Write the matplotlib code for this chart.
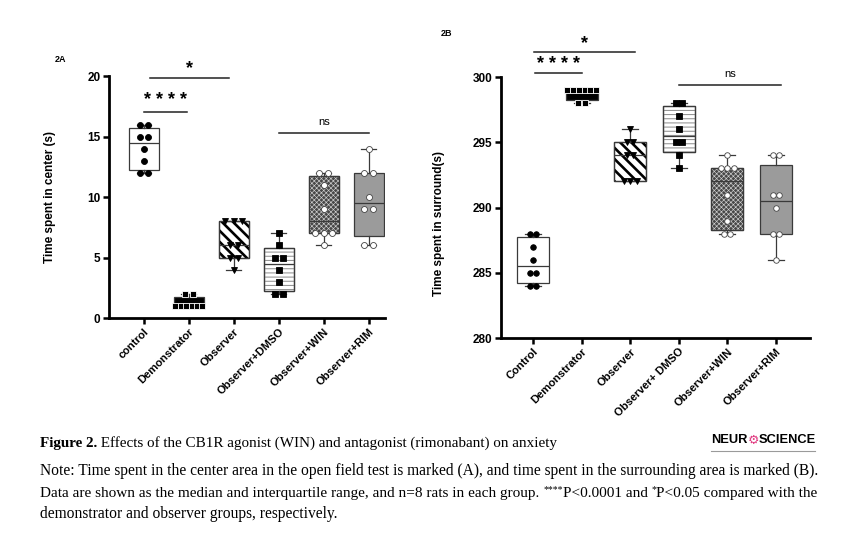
import numpy as np
import matplotlib.pyplot as plt
from matplotlib.lines import Line2D
from matplotlib.patches import PathPatch

plt.rcParams["font.family"] = ["Liberation Sans", "DejaVu Sans"]

# group names as printed under each panel
groups_a = ["control", "Demonstrator", "Observer", "Observer+DMSO", "Observer+WIN", "Observer+RIM"]
groups_b = ["Control", "Demonstrator", "Observer", "Observer+ DMSO", "Observer+WIN", "Observer+RIM"]

# 2A: time spent in center (s), n=8 per group
center_control = [12, 12, 13, 14, 15, 15, 16, 16]
center_demo = [1, 1, 1, 1, 1, 1, 2, 2]
center_observer = [4, 5, 5, 6, 6, 8, 8, 8]
center_dmso = [2, 2, 3, 4, 5, 5, 6, 7]
center_win = [6, 7, 7, 7, 9, 11, 12, 12]
center_rim = [6, 6, 9, 9, 10, 12, 12, 14]

# 2B: time spent in surround (s)
surround_control = [284, 284, 285, 285, 286, 287, 288, 288]
surround_demo = [298, 298, 299, 299, 299, 299, 299, 299]
surround_observer = [292, 292, 292, 294, 294, 295, 295, 296]
surround_dmso = [293, 294, 295, 295, 296, 297, 298, 298]
surround_win = [288, 288, 289, 291, 293, 293, 293, 294]
surround_rim = [286, 288, 288, 290, 291, 291, 294, 294]

center_yticks = [0, 5, 10, 15, 20]
surround_yticks = [280, 285, 290, 295, 300]

# look of each group: fill, hatch, hatch colour, marker, marker face, marker edge
styles = [
    dict(face="white", hatch=None, hcol=None, marker="o", mfc="black", mec="black"),
    dict(face="black", hatch=None, hcol=None, marker="s", mfc="black", mec="white"),
    dict(face="white", hatch="\\\\\\", hcol="black", marker="v", mfc="black", mec="black", hlw=1.9),
    dict(face="white", hatch="----", hcol="#8a8a8a", marker="s", mfc="black", mec="black", hlw=0.7),
    dict(face="#474747", hatch="xxxxxxx", hcol="#d0d0d0", marker="o", mfc="white", mec="#444444", hlw=0.45),
    dict(face="#9b9b9b", hatch=None, hcol=None, marker="o", mfc="white", mec="#444444"),
]


def box_stats(vals):
    q1, med, q3 = np.percentile(vals, [25, 50, 75], method="weibull")
    return dict(med=med, q1=q1, q3=q3, whislo=min(vals), whishi=max(vals), fliers=[])


def spread(vals, step):
    counts = {}
    for v in vals:
        counts[v] = counts.get(v, 0) + 1
    seen = {}
    xs = []
    for v in vals:
        n = counts[v]
        k = seen.get(v, 0)
        seen[v] = k + 1
        s = step if n < 3 else min(step, 0.6 / (n - 1))
        xs.append((k - (n - 1) / 2) * s)
    return np.array(xs)


def draw_panel(ax, data, labels, yticks, step, msize):
    pos = np.arange(len(data))
    edge = "#3a3a3a"
    res = ax.bxp(
        [box_stats(d) for d in data], positions=pos, widths=0.66, capwidths=0.33,
        patch_artist=True, showfliers=False,
        boxprops=dict(edgecolor=edge, linewidth=0.9),
        medianprops=dict(color=edge, linewidth=0.9),
        whiskerprops=dict(color=edge, linewidth=0.9),
        capprops=dict(color=edge, linewidth=0.9),
    )
    for box, st in zip(res["boxes"], styles):
        box.set_facecolor(st["face"])
        box.set_zorder(2)
        if st["hatch"]:
            plt.rcParams["hatch.linewidth"] = st["hlw"]
            over = PathPatch(box.get_path(), facecolor="none", edgecolor=st["hcol"],
                             linewidth=0, hatch=st["hatch"], zorder=2.2)
            if hasattr(over, "set_hatch_linewidth"):
                over.set_hatch_linewidth(st["hlw"])
            ax.add_patch(over)
            outline = PathPatch(box.get_path(), facecolor="none", edgecolor=edge,
                                linewidth=0.9, zorder=2.3)
            ax.add_patch(outline)
    for ln in res["medians"]:
        ln.set_zorder(2.5)
    for i, (d, st) in enumerate(zip(data, styles)):
        ax.plot(i + spread(d, step), d, linestyle="none", marker=st["marker"],
                markerfacecolor=st["mfc"], markeredgecolor=st["mec"],
                markeredgewidth=0.6, markersize=msize, zorder=4, clip_on=False)

    ax.set_xticks(pos)
    ax.set_xticklabels(labels, rotation=45, ha="right", rotation_mode="anchor",
                       fontsize=8, fontweight="bold")
    ax.set_yticks(yticks)
    ax.set_yticklabels([str(t) for t in yticks], fontsize=8.5, fontweight="bold")
    ax.set_ylim(yticks[0], yticks[-1])
    for side in ("top", "right"):
        ax.spines[side].set_visible(False)
    for side in ("left", "bottom"):
        ax.spines[side].set_linewidth(2.0)
    ax.tick_params(axis="both", direction="out", length=4, width=1.8, pad=2)


def bracket(ax, x0, x1, y, label, ty, size, weight="bold"):
    ax.plot([x0, x1], [y, y], color="#222222", linewidth=1.1, clip_on=False)
    ax.text((x0 + x1) / 2, ty, label, ha="center", va="center", fontsize=size,
            fontweight=weight, clip_on=False)


fig = plt.figure(figsize=(8.44, 5.35), dpi=100)
ax_a = fig.add_axes([0.129, 0.4056, 0.327, 0.452])
ax_b = fig.add_axes([0.5936, 0.368, 0.366, 0.488])

data_a = [center_control, center_demo, center_observer, center_dmso, center_win, center_rim]
data_b = [surround_control, surround_demo, surround_observer, surround_dmso, surround_win, surround_rim]

draw_panel(ax_a, data_a, groups_a, center_yticks, 0.19, 4.3)
ax_a.set_xlim(-0.78, 5.36)
ax_a.set_ylabel("Time spent in center (s)", fontsize=8.5, fontweight="bold")
ax_a.yaxis.set_label_coords(-0.192, 0.5)
bracket(ax_a, 0.0, 0.95, 17.0, "* * * *", 18.0, 13)
bracket(ax_a, 0.13, 1.9, 19.85, "*", 20.6, 13)
bracket(ax_a, 3.0, 5.0, 15.3, "ns", 16.2, 8, "normal")

draw_panel(ax_b, data_b, groups_b, surround_yticks, 0.13, 4.0)
ax_b.set_xlim(-0.66, 5.7)
ax_b.set_ylabel("Time spent in surround(s)", fontsize=8.5, fontweight="bold")
ax_b.yaxis.set_label_coords(-0.181, 0.44)
bracket(ax_b, 0.04, 1.0, 300.28, "* * * *", 300.95, 13)
bracket(ax_b, 0.02, 2.1, 301.9, "*", 302.6, 13)
bracket(ax_b, 3.0, 5.1, 299.4, "ns", 300.25, 8, "normal")

fig.text(55 / 844, 1 - 60 / 535, "2A", fontsize=6.5, fontweight="bold", va="center")
fig.text(441 / 844, 1 - 33 / 535, "2B", fontsize=6.5, fontweight="bold", va="center")

# caption
serif = ["Liberation Serif", "DejaVu Serif"]
renderer = fig.canvas.get_renderer()


def text_run(x_px, y_px, pieces):
    # pieces: (text, fontsize, weight, raise_px); placed side by side on one baseline
    x = x_px
    for s, size, weight, up in pieces:
        t = fig.text(x / 844, 1 - (y_px - up) / 535, s, family=serif, fontsize=size,
                     fontweight=weight, va="baseline", ha="left")
        x += t.get_window_extent(renderer).width


text_run(40, 447, [("Figure 2.", 10.9, "bold", 0),
                   (" Effects of the CB1R agonist (WIN) and antagonist (rimonabant) on anxiety", 10.9, "normal", 0)])
text_run(40, 475, [("Note: Time spent in the center area in the open field test is marked (A), "
                    "and time spent in the surrounding area is marked (B).", 11.2, "normal", 0)])
text_run(40, 497, [("Data are shown as the median and interquartile range, and n=8 rats in each group. ", 11.0, "normal", 0),
                   ("****", 7, "normal", 5),
                   ("P<0.0001 and ", 11.0, "normal", 0),
                   ("*", 7, "normal", 5),
                   ("P<0.05 compared with the", 11.0, "normal", 0)])
text_run(40, 518, [("demonstrator and observer groups, respectively.", 11.2, "normal", 0)])

# journal logo
t1 = fig.text(711 / 844, 1 - 440 / 535, "NEUR", fontsize=9.3, fontweight="bold", va="center")
t2 = plt.annotate("\u2699", xy=(1, 0.5), xycoords=t1, va="center", ha="left",
                  fontsize=9.3, color="#e0367e", family=["DejaVu Sans"], fontweight="bold")
plt.annotate("SCIENCE", xy=(1, 0.5), xycoords=t2, va="center", ha="left",
             fontsize=9.3, fontweight="bold")
fig.add_artist(Line2D([711 / 844, 815 / 844], [1 - 451 / 535] * 2, color="#9a9a9a", linewidth=0.8))

fig.savefig("out.png", dpi=100)
